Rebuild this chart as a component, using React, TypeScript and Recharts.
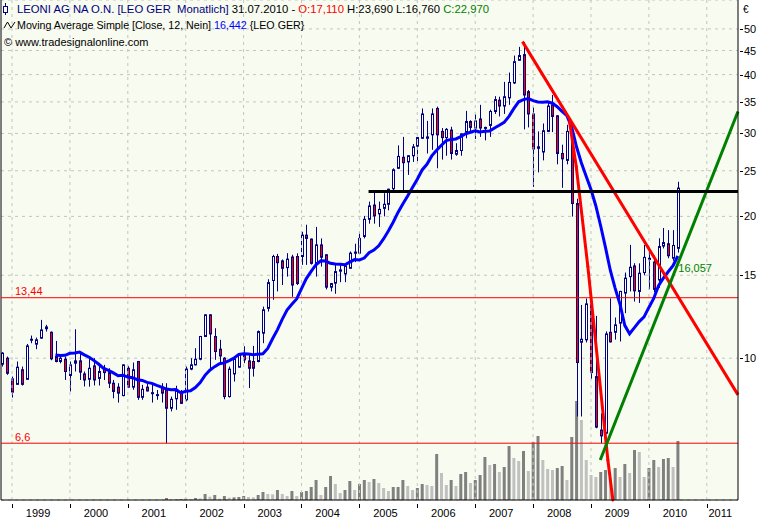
import {
  Bar,
  CartesianGrid,
  Cell,
  ComposedChart,
  Line,
  ReferenceDot,
  ReferenceLine,
  XAxis,
  YAxis,
} from "recharts";

const FONT = '"Liberation Sans", Arial, sans-serif';
const NAVY = "#000080";
const PLOT_BG = "#f8fbf0";
const GRID = "#c4c4c4";

// months counted from Jan 1999 (= 0); first candle is Nov 1998
const FIRST_MONTH = -2;
const X_MIN = -2.28;
const X_MAX = 150.47;

// monthly candles Nov 1998 .. Jul 2010
const opens = [
  9.71, 10.0,
  9.04, 8.8, 9.45, 9.02, 10.93, 10.71, 11.03, 11.55, 11.35, 10.08, 9.84, 9.95,
  9.19, 9.87, 9.87, 9.26, 9.02, 9.63, 9.06, 9.52, 9.32, 8.85, 8.68, 8.33,
  9.52, 8.68, 9.84, 8.26, 8.68, 8.43, 8.33, 8.68, 8.54, 7.83, 8.2, 8.46,
  8.16, 9.48, 9.68, 9.95, 11.12, 12.36, 11.12, 10.45, 10.0, 8.29, 9.26, 9.57,
  10.16, 9.87, 9.84, 9.84, 11.3, 12.76, 14.62, 16.44, 16.09, 15.57, 16.4, 16.44,
  16.44, 18.25, 17.9, 15.9, 17.4, 16.58, 14.15, 14.43, 15.3, 15.1, 15.52, 16.7,
  16.71, 18.13, 19.72, 21.14, 20.25, 20.8, 21.22, 22.9, 25.3, 26.7, 26.1, 26.9,
  28.2, 29.3, 29.3, 29.8, 33.9, 30.3, 29.4, 30.5, 27.1, 27.6, 30.2, 31.8,
  30.8, 32.2, 30.8, 31.2, 33.4, 35.3, 34.3, 35.7, 38.4, 42.9, 44.1, 36.8,
  33.0, 28.1, 27.4, 30.3, 34.5, 32.7, 27.2, 26.3, 29.9, 21.3, 10.81, 10.94,
  12.97, 9.14, 7.04, 6.93, 11.35, 11.35, 11.87, 13.75, 14.9, 15.7, 13.86, 15.2,
  16.2, 16.0, 14.66, 17.3, 17.5, 16.3, 17.11,
];
const highs = [
  10.3, 10.08,
  9.14, 9.84, 9.6, 10.72, 11.17, 11.06, 12.06, 11.77, 11.4, 10.88, 10.16, 10.08,
  9.84, 11.52, 10.33, 9.37, 10.0, 10.0, 9.68, 9.68, 9.52, 8.99, 8.85, 9.7,
  9.63, 9.79, 9.87, 8.78, 8.85, 8.85, 8.56, 8.85, 8.85, 8.29, 8.74, 8.56,
  9.6, 10.0, 10.5, 11.15, 12.4, 12.4, 11.58, 10.94, 10.05, 9.6, 10.08, 10.25,
  10.6, 10.21, 10.62, 11.45, 12.87, 14.71, 16.58, 16.65, 16.2, 16.71, 16.58, 16.7,
  18.55, 19.2, 17.95, 19.0, 17.96, 16.6, 14.45, 15.78, 15.78, 15.78, 16.85, 17.5,
  18.55, 20.05, 21.5, 22.5, 21.5, 22.4, 22.9, 25.3, 28.3, 29.5, 27.0, 28.5,
  29.5, 33.9, 31.9, 33.9, 34.2, 30.8, 30.8, 31.0, 28.6, 30.0, 33.5, 32.0,
  33.0, 34.5, 31.0, 33.7, 36.0, 35.9, 38.6, 40.4, 43.9, 45.8, 46.9, 37.1,
  34.1, 30.3, 31.5, 35.1, 36.2, 32.8, 28.4, 31.3, 31.5, 21.8, 12.97, 13.39,
  13.19, 12.3, 7.64, 11.4, 13.4, 12.2, 13.9, 15.2, 17.4, 15.91, 15.9, 17.4,
  17.0, 16.5, 17.97, 18.9, 18.7, 18.7, 23.69,
];
const lows = [
  9.6, 9.22,
  8.25, 8.78, 8.75, 9.0, 10.76, 10.45, 11.0, 11.39, 9.9, 9.8, 9.75, 8.99,
  8.5, 9.37, 8.99, 8.71, 8.7, 8.75, 8.75, 8.99, 8.64, 8.22, 8.05, 8.3,
  8.64, 8.57, 8.16, 8.16, 8.5, 8.05, 8.16, 8.05, 6.6, 7.71, 7.77, 8.0,
  8.1, 9.43, 9.65, 9.9, 11.1, 9.52, 9.92, 9.76, 8.18, 8.25, 8.92, 9.55,
  9.76, 8.64, 9.14, 9.8, 10.76, 12.56, 13.3, 13.86, 14.3, 14.9, 13.5, 14.3,
  15.78, 15.78, 15.8, 14.9, 15.65, 14.0, 13.86, 13.7, 14.5, 14.5, 15.5, 16.0,
  16.7, 17.96, 19.3, 19.3, 19.0, 20.0, 20.6, 22.7, 25.2, 22.7, 24.5, 26.1,
  26.2, 29.2, 27.2, 27.7, 25.3, 26.4, 26.9, 26.4, 26.9, 26.9, 29.3, 30.3,
  29.2, 29.5, 29.0, 29.5, 33.0, 32.6, 33.0, 34.5, 38.2, 42.8, 30.6, 30.9,
  23.1, 24.8, 26.3, 30.2, 30.2, 25.8, 23.0, 25.8, 19.98, 7.52, 7.52, 10.8,
  9.03, 7.1, 6.6, 6.9, 10.8, 10.95, 10.85, 12.46, 13.86, 13.19, 13.1, 15.0,
  14.0, 13.8, 14.1, 17.1, 16.3, 16.1, 16.76,
];
const closes = [
  10.25, 9.29,
  8.47, 9.57, 8.8, 10.62, 10.97, 10.94, 11.48, 11.65, 9.97, 9.84, 10.0, 9.37,
  9.68, 9.76, 9.34, 8.99, 9.52, 8.99, 9.37, 9.32, 8.85, 8.5, 8.43, 9.68,
  8.68, 9.45, 8.26, 8.59, 8.52, 8.45, 8.37, 8.43, 7.83, 8.18, 8.5, 8.02,
  9.48, 9.68, 9.95, 11.12, 12.36, 11.26, 10.33, 10.11, 8.29, 9.48, 9.97, 10.21,
  9.92, 9.52, 9.52, 11.39, 12.67, 14.47, 16.44, 15.95, 15.52, 16.23, 14.3, 14.41,
  18.25, 17.96, 15.9, 17.4, 16.38, 14.15, 14.4, 15.27, 15.4, 15.7, 16.71, 16.8,
  17.96, 19.72, 21.05, 20.05, 20.7, 21.22, 22.84, 25.12, 26.81, 26.0, 26.9, 28.1,
  29.4, 33.0, 29.5, 33.0, 29.8, 29.4, 30.6, 27.2, 27.6, 29.94, 31.8, 30.9,
  31.9, 30.8, 30.9, 33.4, 35.4, 34.3, 35.9, 38.5, 42.6, 43.9, 36.2, 33.0,
  27.8, 27.9, 30.4, 34.3, 32.6, 27.2, 26.5, 30.3, 21.3, 9.79, 10.97, 13.04,
  9.32, 7.14, 6.84, 11.26, 10.83, 11.77, 13.86, 14.79, 15.6, 13.9, 15.15, 16.37,
  16.3, 14.0, 17.26, 17.6, 16.5, 17.35, 22.97,
];

// volume, Sep 2001 .. Jul 2010 (relative units)
const VOLUME_START = 32;
const volumes = [
  6, 2, 2, 3,
  4, 3, 6, 5, 18, 10, 15, 4, 12, 7, 8, 9,
  12, 9, 8, 15, 24, 18, 17, 30, 18, 12, 27, 12,
  24, 27, 39, 60, 15, 39, 72, 48, 21, 30, 57, 30,
  48, 60, 54, 63, 51, 36, 27, 39, 39, 60, 42, 30,
  36, 48, 45, 42, 138, 81, 45, 60, 42, 78, 84, 51,
  60, 75, 129, 105, 108, 84, 99, 162, 126, 117, 147, 87,
  174, 192, 120, 93, 90, 96, 102, 60, 189, 297, 240, 120,
  75, 69, 84, 90, 66, 96, 69, 108, 81, 150, 144, 69,
  96, 120, 99, 123, 126, 99, 177,
];

const MA_PERIOD = 12;

const priceTicks = [10, 15, 20, 25, 30, 35, 40, 45, 50];
const yearLabels = ["1999", "2000", "2001", "2002", "2003", "2004", "2005", "2006", "2007", "2008", "2009", "2010", "2011"];

// drawn lines, as (month, price) points
const redLongLine = [{ m: 105.8, price: 47.0 }, { m: X_MAX, price: 8.36 }];
const redSteepLine = [
  { m: 115.56, price: 31.78 },
  { m: 116.95, price: 25.51 },
  { m: 119.35, price: 15.65 },
  { m: 123.5, price: 6.08 },
  { m: 124.53, price: 5.0 },
];
const greenLine = [{ m: 121.92, price: 6.08 }, { m: X_MAX, price: 33.4 }];
const blackLine = [{ m: 73.9, price: 22.6 }, { m: X_MAX, price: 22.6 }];
const levels = [13.44, 6.6];
const levelLabels = ["13,44", "6,6"];
const greenValue = 16.057;

const rows = closes.map((close, i) => {
  const m = FIRST_MONTH + i;
  const vi = m - VOLUME_START;
  let ma: number | undefined;
  if (i >= MA_PERIOD - 1) {
    ma = closes.slice(i - MA_PERIOD + 1, i + 1).reduce((a, b) => a + b, 0) / MA_PERIOD;
  }
  const vol = vi >= 0 ? volumes[vi] : undefined;
  const prevVol = vi >= 1 ? volumes[vi - 1] : 0;
  return {
    m,
    open: opens[i],
    high: highs[i],
    low: lows[i],
    close,
    hl: [lows[i], highs[i]],
    ma,
    vol,
    volUp: vol !== undefined && vol >= prevVol,
  };
});

const yearStarts = yearLabels.map((_, i) => i * 12);
const labelAt = yearLabels.map((_, i) => (i < yearLabels.length - 1 ? i * 12 + 5.4 : i * 12 + 2.8));
const xTicks = [...yearStarts, ...labelAt].sort((a, b) => a - b);

function Candle(props: any) {
  const { x, y, width, height, payload } = props;
  if (x == null || y == null) return null;
  const { open, high, low, close } = payload;
  const cx = Math.round(x + width / 2) + 0.5;
  const yHigh = Math.min(y, y + height);
  const yLow = Math.max(y, y + height);
  const span = Math.log(high) - Math.log(low);
  const at = (v: number) => (span > 0 ? yHigh + ((yLow - yHigh) * (Math.log(high) - Math.log(v))) / span : yHigh);
  const top = at(Math.max(open, close));
  const bottom = at(Math.min(open, close));
  return (
    <g>
      <line x1={cx} x2={cx} y1={yHigh} y2={yLow} stroke={NAVY} strokeWidth={1} />
      <rect
        x={cx - 1}
        y={top}
        width={2}
        height={Math.max(bottom - top, 1)}
        fill={close >= open ? "#ffffff" : "#ff0000"}
        stroke={NAVY}
        strokeWidth={1}
      />
    </g>
  );
}

function YearTick(props: any) {
  const { x, y, payload } = props;
  const v = payload.value;
  const si = yearStarts.indexOf(v);
  if (si >= 0) {
    const tx = Math.round(x) + 0.5;
    return <line x1={tx} x2={tx} y1={y + 4} y2={y + 8} stroke="#000" />;
  }
  const li = labelAt.indexOf(v);
  return (
    <text x={x} y={y + 17} textAnchor="middle" fontFamily={FONT} fontSize={11} fill="#000">
      {yearLabels[li]}
    </text>
  );
}

function PriceTick(props: any) {
  const { x, y, payload } = props;
  const ty = Math.round(y) + 0.5;
  return (
    <g>
      <line x1={x + 2} x2={x + 5} y1={ty} y2={ty} stroke="#000" />
      <text x={x + 6} y={y + 4} fontFamily={FONT} fontSize={11} fill="#000">
        {payload.value}
      </text>
    </g>
  );
}

function LevelLabel(props: any) {
  const { viewBox, text } = props;
  return (
    <text x={viewBox.x + 14} y={viewBox.y - 2.5} fontFamily={FONT} fontSize={11} fill="#ff0000">
      {text}
    </text>
  );
}

function GreenLabel(props: any) {
  const { viewBox } = props;
  const cx = viewBox.x + (viewBox.width || 0) / 2;
  const cy = viewBox.y + (viewBox.height || 0) / 2;
  return (
    <text x={cx + 0.5} y={cy + 10.3} fontFamily={FONT} fontSize={11} fill="#008000">
      16,057
    </text>
  );
}

function segments(points: { m: number; price: number }[]) {
  const out: [{ x: number; y: number }, { x: number; y: number }][] = [];
  for (let i = 1; i < points.length; i++) {
    out.push([
      { x: points[i - 1].m, y: points[i - 1].price },
      { x: points[i].m, y: points[i].price },
    ]);
  }
  return out;
}

function Header() {
  return (
    <svg
      width={769}
      height={60}
      style={{ position: "absolute", left: 0, top: 0, pointerEvents: "none" }}
      fontFamily={FONT}
      fontSize={11}
    >
      <line x1={5.5} x2={5.5} y1={3} y2={15} stroke={NAVY} />
      <rect x={3.5} y={6.5} width={4} height={6} fill="#fff" stroke={NAVY} />
      <text x={17} y={13.3} xmlSpace="preserve" fontSize={11.3}>
        <tspan fill={NAVY}>LEONI AG NA O.N. [LEO GER  Monatlich]</tspan>
        <tspan fill="#000"> 31.07.2010 - </tspan>
        <tspan fill="#ff0000">O:17,110</tspan>
        <tspan fill="#000"> H:23,690 L:16,760 </tspan>
        <tspan fill="#008000">C:22,970</tspan>
      </text>
      <polyline points="4,28 7.5,22 11,28 15,22" fill="none" stroke="#000" />
      <text x={17} y={29.3} xmlSpace="preserve" fontSize={10.7}>
        <tspan fill="#000">Moving Average Simple [Close, 12, Nein] </tspan>
        <tspan fill="#0000ff">16,442</tspan>
        <tspan fill="#000"> {"{LEO GER}"}</tspan>
      </text>
      <text x={4} y={45.5} fill="#000">
        © www.tradesignalonline.com
      </text>
      <text x={743} y={13} fill="#000" fontSize={10}>
        €
      </text>
    </svg>
  );
}

export default function App() {
  return (
    <div style={{ position: "relative", width: 769, height: 520, background: "#ffffff" }}>
      <style>{"body{margin:0}"}</style>
      <ComposedChart
        width={769}
        height={520}
        data={rows}
        margin={{ top: 0, right: 0, bottom: 0, left: 1 }}
        barGap={-3}
      >
        <CartesianGrid vertical={false} stroke={GRID} strokeDasharray="3 4" fill={PLOT_BG} fillOpacity={1} />
        <XAxis
          dataKey="m"
          type="number"
          domain={[X_MIN, X_MAX]}
          allowDataOverflow
          ticks={xTicks}
          interval={0}
          tick={<YearTick />}
          tickLine={false}
          tickSize={0}
          tickMargin={0}
          height={20}
          axisLine={{ stroke: "#000" }}
        />
        <YAxis
          orientation="right"
          scale="log"
          domain={[5, 57.6]}
          allowDataOverflow
          ticks={priceTicks}
          interval={0}
          tick={<PriceTick />}
          tickLine={false}
          tickSize={0}
          tickMargin={0}
          width={31}
          axisLine={{ stroke: "#000" }}
        />
        <YAxis yAxisId="vol" hide domain={[0, 1500]} />
        {yearStarts.map((m) => (
          <ReferenceLine key={"g" + m} x={m} stroke={GRID} strokeDasharray="3 4" ifOverflow="visible" />
        ))}
        <ReferenceLine x={X_MIN} stroke="#000" ifOverflow="visible" />
        {levels.map((lv, i) => (
          <ReferenceLine
            key={"lv" + lv}
            y={lv}
            stroke="#ff0000"
            strokeWidth={1}
            ifOverflow="visible"
            label={<LevelLabel text={levelLabels[i]} />}
          />
        ))}
        <Bar dataKey="vol" yAxisId="vol" barSize={3} isAnimationActive={false}>
          {rows.map((r) => (
            <Cell key={"v" + r.m} fill={r.volUp ? "#808080" : "#c0c0c0"} />
          ))}
        </Bar>
        <Bar dataKey="hl" barSize={3} shape={<Candle />} isAnimationActive={false} />
        <Line
          dataKey="ma"
          stroke="#0000ff"
          strokeWidth={3}
          dot={false}
          activeDot={false}
          isAnimationActive={false}
        />
        {segments(redLongLine).map((s, i) => (
          <ReferenceLine key={"rl" + i} segment={s} stroke="#ff0000" strokeWidth={3} ifOverflow="visible" />
        ))}
        {segments(redSteepLine).map((s, i) => (
          <ReferenceLine
            key={"rs" + i}
            segment={s}
            stroke="#ff0000"
            strokeWidth={3}
            strokeLinecap="round"
            ifOverflow="visible"
          />
        ))}
        {segments(greenLine).map((s, i) => (
          <ReferenceLine key={"gl" + i} segment={s} stroke="#008000" strokeWidth={3} ifOverflow="visible" />
        ))}
        {segments(blackLine).map((s, i) => (
          <ReferenceLine key={"bl" + i} segment={s} stroke="#000000" strokeWidth={3} ifOverflow="visible" />
        ))}
        <ReferenceDot
          x={rows[rows.length - 1].m}
          y={greenValue}
          r={0}
          fill="none"
          stroke="none"
          ifOverflow="visible"
          label={<GreenLabel />}
        />
      </ComposedChart>
      <Header />
    </div>
  );
}
